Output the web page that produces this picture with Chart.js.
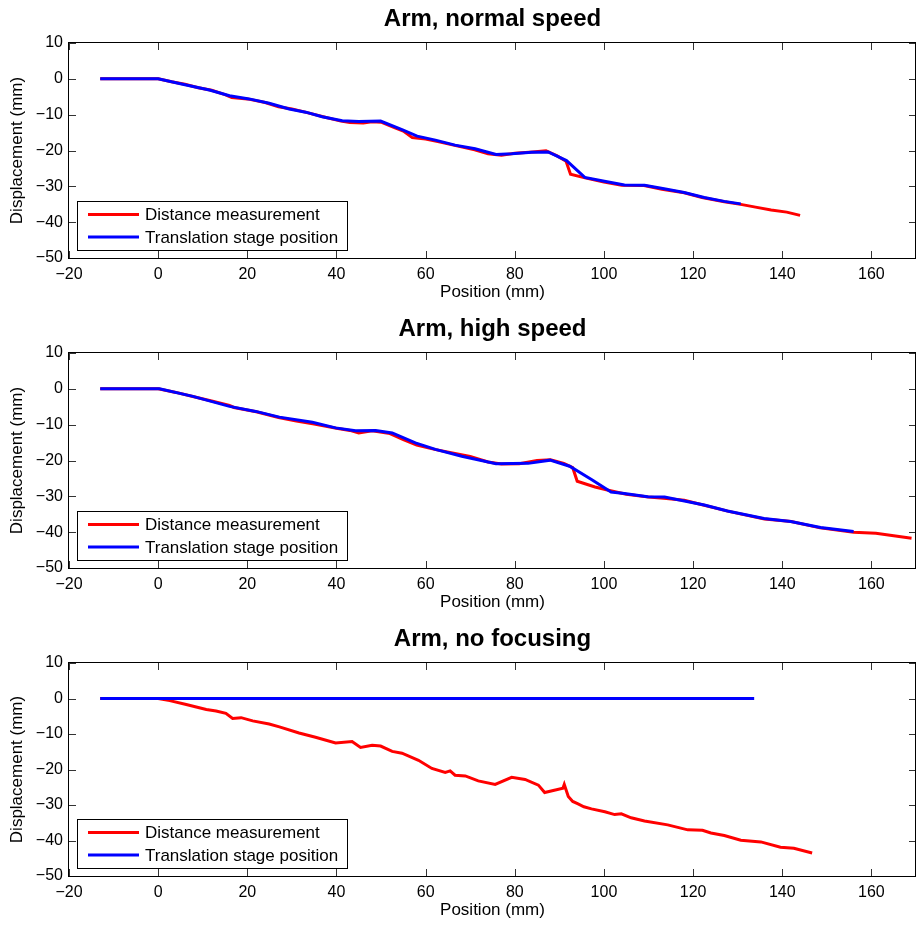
<!DOCTYPE html>
<html>
<head>
<meta charset="utf-8">
<title>Arm displacement</title>
<script src="https://cdn.jsdelivr.net/npm/chart.js@4.4.0/dist/chart.umd.min.js"></script>
<style>
  html, body { margin: 0; padding: 0; background: #fff; width: 917px; height: 928px; overflow: hidden; }
  .panel { position: absolute; left: 0; width: 917px; }
</style>
</head>
<body>
<div class="panel" style="top:0"><canvas id="normal" width="917" height="310"></canvas></div>
<div class="panel" style="top:310px"><canvas id="high" width="917" height="310"></canvas></div>
<div class="panel" style="top:620px"><canvas id="nofocus" width="917" height="308"></canvas></div>
<script>
// --- data (mm) ---
var normalMeasX = [-13, 0, 3, 6, 9, 12, 15, 16.5, 20, 24, 27, 30, 33, 37, 41, 43, 46, 48, 50, 53, 55, 57, 60, 63, 67, 71, 74, 77, 80, 84, 87, 89.5, 91.5, 92.5, 96, 100, 104, 109, 113, 118, 122, 127, 131, 134, 137.5, 141, 144];
var normalMeasY = [0, 0, -0.8, -1.5, -2.5, -3.2, -4.4, -5.2, -5.6, -6.6, -7.8, -8.4, -9.3, -10.6, -11.8, -12.2, -12.3, -12.0, -12.1, -13.6, -14.6, -16.4, -16.8, -17.6, -18.7, -19.8, -20.9, -21.3, -20.8, -20.4, -20.1, -21.5, -23.0, -26.6, -27.7, -28.8, -29.7, -29.8, -30.8, -31.8, -33.1, -34.3, -35.1, -35.8, -36.6, -37.2, -38.1];
var normalStageX = [-13, 0, 5.5, 11.5, 16, 20.4, 24.9, 29.4, 33.1, 36.8, 41.3, 45, 49.9, 54.7, 58.1, 62.2, 66.6, 71.1, 75.8, 79.3, 83.8, 87.5, 91.6, 95.7, 100.1, 104.6, 109.1, 113.5, 118, 122.5, 127, 130.7];
var normalStageY = [0, 0, -1.5, -3.1, -4.7, -5.6, -6.8, -8.4, -9.3, -10.6, -11.7, -11.9, -11.8, -14.2, -16.0, -17.1, -18.5, -19.5, -21.1, -20.9, -20.5, -20.4, -22.8, -27.5, -28.6, -29.6, -29.7, -30.7, -31.7, -33.1, -34.2, -34.9];

var highMeasX = [-13, 0, 4, 8, 12, 16, 17, 22, 27, 31, 35, 40, 43, 45, 48, 52, 55, 58, 62, 66, 70, 74, 77, 81, 85, 88, 91, 93, 94, 98, 101, 105, 110, 114, 118, 122.5, 128, 136, 142, 148.5, 156, 161, 165, 169];
var highMeasY = [0, 0, -1.0, -2.2, -3.4, -4.6, -5.2, -6.4, -8.0, -9.0, -9.8, -11.0, -11.6, -12.3, -11.7, -12.5, -14.2, -15.7, -16.9, -17.9, -18.9, -20.4, -21.0, -20.9, -20.0, -19.8, -20.8, -22.0, -25.8, -27.4, -28.3, -29.4, -30.2, -30.6, -31.1, -32.5, -34.2, -36.3, -37.0, -38.8, -40.0, -40.3, -41.0, -41.7];
var highStageX = [-13, 0.3, 7.8, 16, 21.9, 27.2, 34.6, 39.8, 44.3, 48.8, 52.5, 57.7, 62.2, 68.1, 75.8, 83, 87.9, 92.3, 97.2, 101.6, 104.6, 109.8, 113.6, 122.5, 127.7, 135.9, 141.9, 148.6, 156];
var highStageY = [0, 0, -2.1, -4.9, -6.3, -7.9, -9.35, -10.9, -11.7, -11.6, -12.3, -15.1, -16.9, -18.8, -20.9, -20.8, -19.9, -21.6, -25.3, -28.8, -29.2, -30.1, -30.2, -32.4, -34.1, -36.2, -37.0, -38.7, -39.8];

var nofocusMeasX = [-13, 0, 2.6, 6.3, 10.8, 13, 15.2, 16.7, 18.6, 21.2, 24.9, 27.2, 31.6, 35.3, 39.8, 43.5, 45.4, 48, 49.9, 52.5, 54.7, 58.4, 61.4, 64.4, 65.5, 66.6, 68.9, 71.8, 75.6, 79.3, 82.3, 85.3, 86.7, 90.8, 91.1, 92, 93, 94.2, 95.5, 97.2, 100.2, 102.4, 103.9, 106.1, 109.1, 114.3, 118.8, 122.1, 124, 127, 130.7, 135.2, 139.6, 142.6, 146.7];
var nofocusMeasY = [0, 0, -0.6, -1.7, -3.1, -3.5, -4.2, -5.6, -5.4, -6.3, -7.2, -8.0, -9.7, -10.9, -12.5, -12.1, -13.8, -13.2, -13.4, -14.9, -15.4, -17.4, -19.7, -20.8, -20.4, -21.6, -21.8, -23.2, -24.2, -22.2, -22.8, -24.4, -26.5, -25.3, -24.2, -27.6, -29.0, -29.7, -30.5, -31.1, -31.9, -32.7, -32.5, -33.6, -34.5, -35.6, -37.0, -37.1, -37.9, -38.6, -39.9, -40.4, -41.9, -42.2, -43.5];
var nofocusStageX = [-13, 0, 20, 40, 60, 80, 100, 120, 133.7];
var nofocusStageY = [0, 0, 0, 0, 0, 0, 0, 0, 0];

var xTicksRange = [-20, 170];
var yTicksRange = [-50, 10];
var seriesLabels = ['Distance measurement', 'Translation stage position'];

var FONT = "'Liberation Sans', Arial, Helvetica, sans-serif";

function pts(xs, ys) {
  return xs.map(function (x, i) { return { x: x, y: ys[i] }; });
}

function minus(v) { return String(v).replace('-', '\u2212'); }

// MATLAB-style box with inward ticks on all four sides
var matlabAxes = {
  id: 'matlabAxes',
  afterDatasetsDraw: function (chart) {
    var ctx = chart.ctx, a = chart.chartArea, xs = chart.scales.x, ys = chart.scales.y;
    var L = Math.round(a.left), R = Math.round(a.right), T = Math.round(a.top), B = Math.round(a.bottom);
    ctx.save();
    ctx.strokeStyle = '#333';
    ctx.lineWidth = 1;
    ctx.beginPath();
    xs.ticks.forEach(function (t) {
      var p = Math.round(xs.getPixelForValue(t.value)) + 0.5;
      ctx.moveTo(p, B); ctx.lineTo(p, B - 7);
      ctx.moveTo(p, T); ctx.lineTo(p, T + 7);
    });
    ys.ticks.forEach(function (t) {
      var p = Math.round(ys.getPixelForValue(t.value)) + 0.5;
      ctx.moveTo(L, p); ctx.lineTo(L + 7, p);
      ctx.moveTo(R, p); ctx.lineTo(R - 7, p);
    });
    ctx.stroke();
    ctx.strokeStyle = '#000';
    ctx.strokeRect(L - 0.5, T - 0.5, R - L, B - T + 1);
    ctx.restore();
  }
};

var boxLegend = {
  id: 'boxLegend',
  afterDraw: function (chart) {
    var ctx = chart.ctx, a = chart.chartArea;
    var x0 = Math.round(a.left) + 8, y0 = Math.round(a.bottom) - 57, w = 270, h = 49;
    ctx.save();
    ctx.fillStyle = '#fff';
    ctx.fillRect(x0, y0, w, h);
    ctx.strokeStyle = '#000';
    ctx.lineWidth = 1;
    ctx.strokeRect(x0 + 0.5, y0 + 0.5, w, h);
    ctx.font = '17px ' + FONT;
    ctx.textBaseline = 'middle';
    ctx.fillStyle = '#000';
    chart.data.datasets.forEach(function (ds, i) {
      var yy = y0 + 13.5 + i * 22.4;
      ctx.strokeStyle = ds.borderColor;
      ctx.lineWidth = 3;
      ctx.beginPath();
      ctx.moveTo(x0 + 11, yy); ctx.lineTo(x0 + 62, yy);
      ctx.stroke();
      ctx.fillText(ds.label, x0 + 68, yy + 1);
    });
    ctx.restore();
  }
};

function makeChart(id, title, measX, measY, stageX, stageY) {
  return new Chart(document.getElementById(id), {
    type: 'line',
    data: {
      datasets: [{
        label: seriesLabels[0],
        data: pts(measX, measY),
        borderColor: '#ff0000',
        borderWidth: 3,
        pointRadius: 0,
        tension: 0,
        order: 2
      }, {
        label: seriesLabels[1],
        data: pts(stageX, stageY),
        borderColor: '#0000ff',
        borderWidth: 3,
        pointRadius: 0,
        tension: 0,
        order: 1
      }]
    },
    options: {
      responsive: false,
      animation: false,
      layout: { padding: { left: 0, right: 1, top: 0, bottom: 0 } },
      plugins: {
        legend: { display: false },
        tooltip: { enabled: false },
        title: {
          display: true,
          text: title,
          fullSize: false,
          color: '#000',
          font: { family: FONT, size: 24, weight: 'bold' },
          padding: { top: 4.6, bottom: 9.6 }
        }
      },
      scales: {
        x: {
          type: 'linear',
          min: xTicksRange[0],
          max: xTicksRange[1],
          grid: { display: false, drawTicks: false },
          border: { display: false },
          ticks: {
            stepSize: 20, includeBounds: false, padding: 7, maxRotation: 0,
            color: '#000', font: { family: FONT, size: 16 },
            callback: minus
          },
          title: {
            display: true, text: 'Position (mm)', color: '#000',
            font: { family: FONT, size: 17 }, padding: { top: 0, bottom: 7 }
          },
          afterFit: function (s) { s.height = 52; }
        },
        y: {
          min: yTicksRange[0],
          max: yTicksRange[1],
          grid: { display: false, drawTicks: false },
          border: { display: false },
          ticks: {
            stepSize: 10, padding: 6,
            color: '#000', font: { family: FONT, size: 16 },
            callback: minus
          },
          title: {
            display: true, text: 'Displacement (mm)', color: '#000',
            font: { family: FONT, size: 17 }, padding: { top: 7, bottom: 0 }
          },
          afterFit: function (s) { s.width = 69; }
        }
      }
    },
    plugins: [matlabAxes, boxLegend]
  });
}

makeChart('normal', 'Arm, normal speed', normalMeasX, normalMeasY, normalStageX, normalStageY);
makeChart('high', 'Arm, high speed', highMeasX, highMeasY, highStageX, highStageY);
makeChart('nofocus', 'Arm, no focusing', nofocusMeasX, nofocusMeasY, nofocusStageX, nofocusStageY);
</script>
</body>
</html>
